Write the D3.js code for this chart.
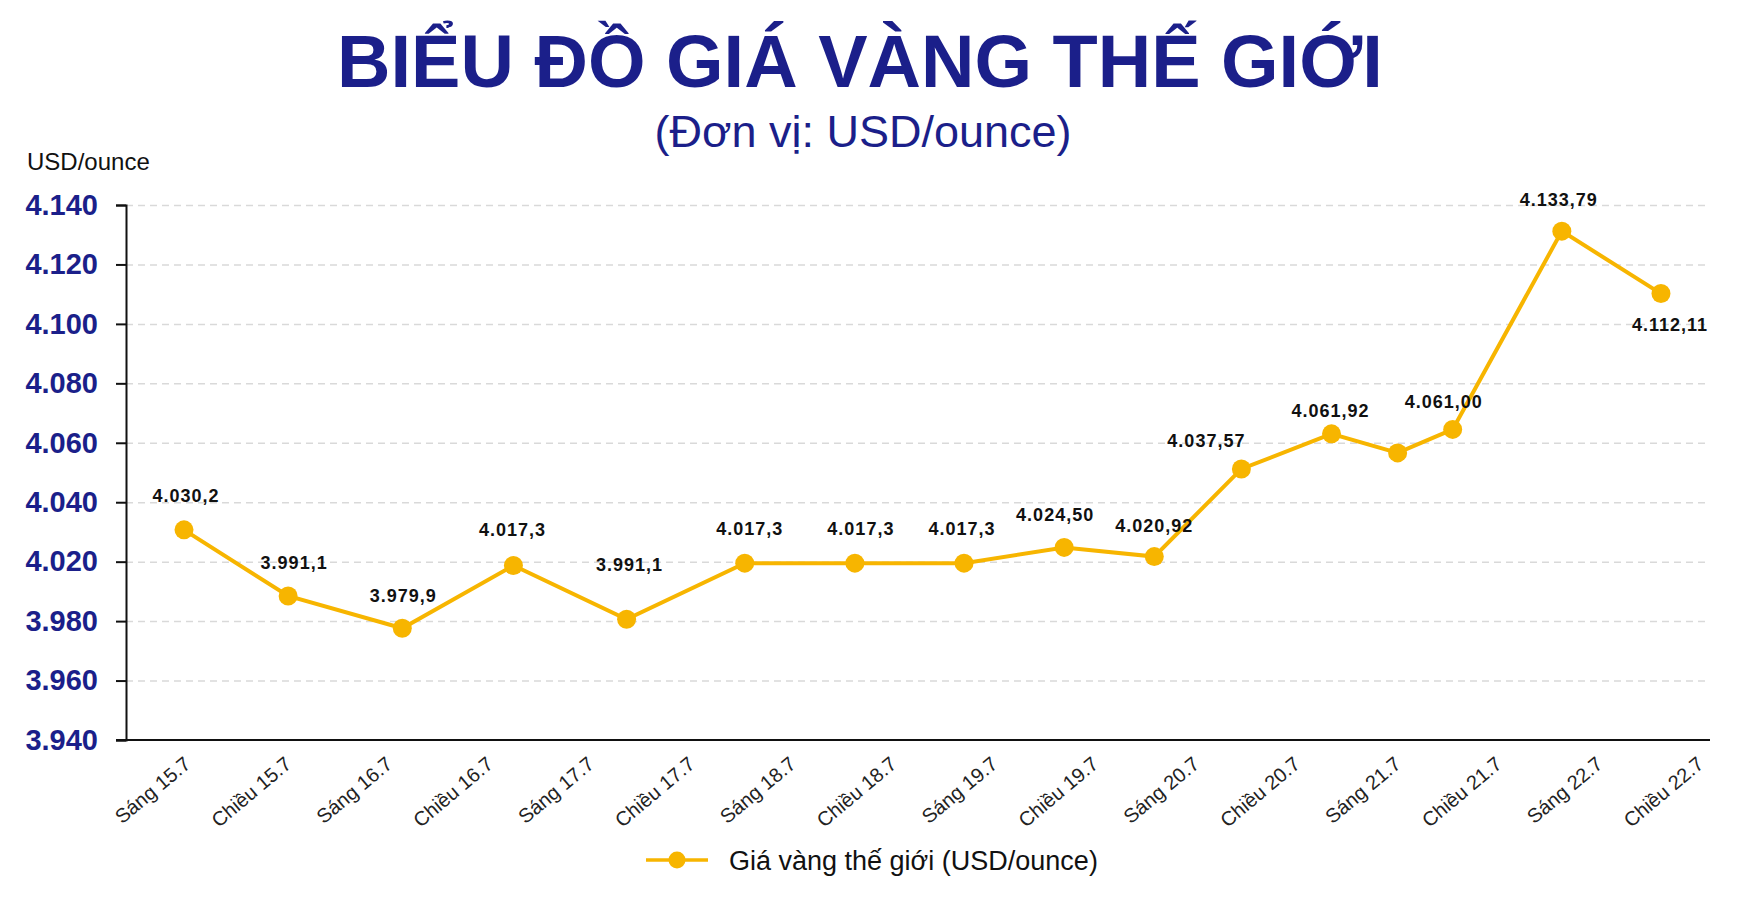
<!DOCTYPE html>
<html>
<head>
<meta charset="utf-8">
<script src="https://cdn.jsdelivr.net/npm/d3@7"></script>
<style>
  body { margin: 0; background: #fff; }
  svg { display: block; font-family: "Liberation Sans", Arial, sans-serif; }
</style>
</head>
<body>
<div id="chart"></div>
<script>
// Data
var categories = ['Sáng 15.7', 'Chiều 15.7', 'Sáng 16.7', 'Chiều 16.7', 'Sáng 17.7', 'Chiều 17.7',
  'Sáng 18.7', 'Chiều 18.7', 'Sáng 19.7', 'Chiều 19.7', 'Sáng 20.7', 'Chiều 20.7',
  'Sáng 21.7', 'Chiều 21.7', 'Sáng 22.7', 'Chiều 22.7'];

// where each point sits along the category axis (in category steps)
var pointPos = [-0.06, 0.98, 2.12, 3.23, 4.36, 5.54, 6.64, 7.73, 8.73, 9.63, 10.50, 11.40, 12.06, 12.61, 13.70, 14.69];

// plotted price, read against the y axis as drawn
var prices = [4030.7, 3996.9, 3977.6, 4017.4, 3981.2, 4019.0, 4019.0, 4019.0, 4024.8, 4021.7,
  4051.2, 4063.0, 4056.6, 4064.5, 4131.2, 4110.2];

// the value labels printed next to the points (one point has none)
var priceLabels = ['4.030,2', '3.991,1', '3.979,9', '4.017,3', '3.991,1', '4.017,3', '4.017,3', '4.017,3',
  '4.024,50', '4.020,92', '4.037,57', '4.061,92', '', '4.061,00', '4.133,79', '4.112,11'];

// y axis labels as printed (no 4.000 on the original)
var yTicks = [3940, 3960, 3980, 4020, 4040, 4060, 4080, 4100, 4120, 4140];

// small nudges for the value labels [dx, dy]
var labelNudge = [[2, -28], [6, -27], [1, -26], [-1, -30], [3, -48], [5, -28], [6, -28], [-2, -28],
  [-9, -26], [0, -25], [-35, -22], [-1, -17], [0, 0], [-9, -21], [-3, -25], [9, 37]];

var width = 1753, height = 897;
var plotLeft = 126, plotRight = 1710, plotTop = 205, plotBottom = 740;
var gold = '#f7b500';
var navy = '#1b1f8a';

var svg = d3.select('#chart')
  .append('svg')
  .attr('width', width)
  .attr('height', height);

// piecewise scale so the ticks are evenly spaced like the original
var step = (plotBottom - plotTop) / (yTicks.length - 1);
var y = d3.scaleLinear()
  .domain([3940, 3980, 4020, 4140])
  .range([plotBottom, plotBottom - 2 * step, plotBottom - 3 * step, plotTop]);

// points sit on a linear scale of category steps, labels on a point scale
var x = d3.scaleLinear()
  .domain([0, categories.length - 1])
  .range([190, 1692]);

var xLabels = d3.scalePoint()
  .domain(categories)
  .range([192, 1705]);

var vn = d3.formatLocale({ decimal: ',', thousands: '.', grouping: [3], currency: ['', ''] });
var fmt = vn.format(',.0f');

// Title
svg.append('text')
  .attr('x', 860)
  .attr('y', 87)
  .attr('text-anchor', 'middle')
  .style('font-size', '74px')
  .style('font-weight', 'bold')
  .style('fill', navy)
  .text('BIỂU ĐỒ GIÁ VÀNG THẾ GIỚI');

svg.append('text')
  .attr('x', 863)
  .attr('y', 147)
  .attr('text-anchor', 'middle')
  .style('font-size', '45px')
  .style('fill', navy)
  .text('(Đơn vị: USD/ounce)');

svg.append('text')
  .attr('x', 27)
  .attr('y', 170)
  .style('font-size', '24px')
  .style('fill', '#111')
  .text('USD/ounce');

// dashed grid lines
svg.append('g')
  .attr('class', 'grid')
  .attr('transform', 'translate(' + plotLeft + ',0)')
  .call(d3.axisLeft(y).tickValues(yTicks.slice(1)).tickSize(-(plotRight - plotLeft)).tickFormat(''))
  .call(function(g) {
    g.select('.domain').remove();
    g.selectAll('line')
      .attr('stroke', '#d9d9d9')
      .attr('stroke-width', 1.5)
      .attr('stroke-dasharray', '7,5');
  });

// y axis
svg.append('g')
  .attr('transform', 'translate(' + plotLeft + ',0)')
  .call(d3.axisLeft(y).tickValues(yTicks).tickSize(10).tickPadding(18).tickFormat(fmt))
  .call(function(g) {
    g.select('.domain').attr('stroke', '#111').attr('stroke-width', 2);
    g.selectAll('line').attr('stroke', '#111').attr('stroke-width', 2);
    g.selectAll('text')
      .style('font-size', '29px')
      .style('font-weight', 'bold')
      .style('fill', navy)
      .style('font-family', '"Liberation Sans", Arial, sans-serif');
  });

// x axis line
svg.append('line')
  .attr('x1', plotLeft - 10)
  .attr('x2', plotRight)
  .attr('y1', plotBottom)
  .attr('y2', plotBottom)
  .attr('stroke', '#111')
  .attr('stroke-width', 2);

// x labels, rotated
svg.append('g')
  .selectAll('text')
  .data(categories)
  .enter()
  .append('text')
  .attr('transform', function(d) { return 'translate(' + xLabels(d) + ',' + 766 + ') rotate(-40)'; })
  .attr('text-anchor', 'end')
  .style('font-size', '20px')
  .style('fill', '#222')
  .text(function(d) { return d; });

// the line
var line = d3.line()
  .x(function(d, i) { return x(pointPos[i]); })
  .y(function(d) { return y(d); });

svg.append('path')
  .datum(prices)
  .attr('d', line)
  .attr('fill', 'none')
  .attr('stroke', gold)
  .attr('stroke-width', 4);

svg.append('g')
  .selectAll('circle')
  .data(prices)
  .enter()
  .append('circle')
  .attr('cx', function(d, i) { return x(pointPos[i]); })
  .attr('cy', function(d) { return y(d); })
  .attr('r', 9.5)
  .attr('fill', gold);

// value labels
svg.append('g')
  .selectAll('text')
  .data(prices)
  .enter()
  .append('text')
  .attr('x', function(d, i) { return x(pointPos[i]) + labelNudge[i][0]; })
  .attr('y', function(d, i) { return y(d) + labelNudge[i][1]; })
  .attr('text-anchor', 'middle')
  .style('font-size', '18px')
  .style('font-weight', 'bold')
  .style('letter-spacing', '1px')
  .style('fill', '#111')
  .text(function(d, i) { return priceLabels[i]; });

// legend
var legend = svg.append('g').attr('transform', 'translate(646,860)');
legend.append('line')
  .attr('x1', 0).attr('x2', 62)
  .attr('stroke', gold)
  .attr('stroke-width', 3.5);
legend.append('circle')
  .attr('cx', 31)
  .attr('r', 8.5)
  .attr('fill', gold);
legend.append('text')
  .attr('x', 83)
  .attr('y', 10)
  .style('font-size', '27px')
  .style('fill', '#111')
  .text('Giá vàng thế giới (USD/ounce)');
</script>
</body>
</html>
